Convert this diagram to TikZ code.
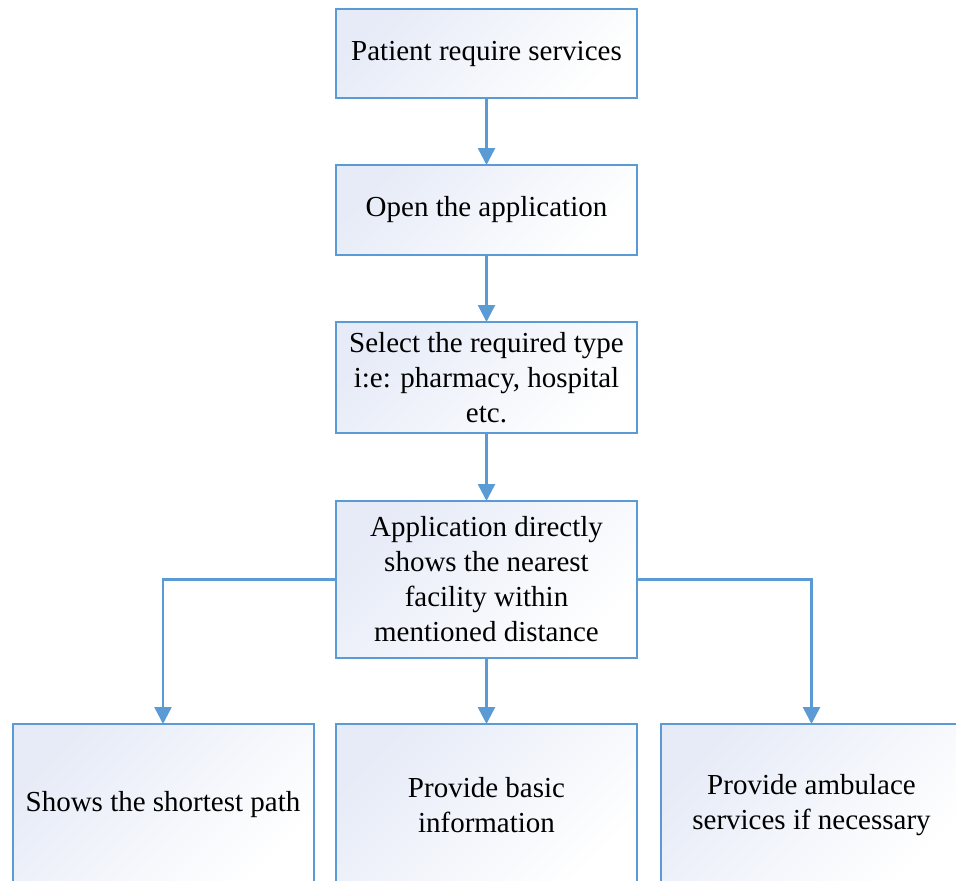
\documentclass[tikz,border=0pt]{standalone}
\usepackage{fontspec}
\setmainfont{Liberation Serif}
\usetikzlibrary{arrows.meta}
\usetikzlibrary{calc,positioning}

\definecolor{boxline}{RGB}{91,155,213}
\definecolor{boxtop}{RGB}{230,235,247}

\begin{document}
\begin{tikzpicture}[x=1pt,y=-1pt]
    \def\boxWidth{301pt}
    \def\midX{486.5}

    \tikzstyle{stepbox}=[draw=boxline,line width=2pt,outer sep=0pt,
    top color=boxtop,bottom color=white,shading angle=45,
    minimum width=\boxWidth,align=center,
    font=\fontsize{29}{35}\selectfont]

    \tikzstyle{flow}=[draw=boxline,line width=2.5pt,
    -{Triangle[width=17pt,length=17pt]},boxline]

    \clip (0,0) rectangle (956,881);
    \useasboundingbox (0,0) rectangle (956,881);

    % Main steps
    \node[stepbox, minimum height=89pt] (P1) at (\midX,53.5) {Patient require services};
    \node[stepbox, minimum height=90pt] (P2) at (\midX,210) {Open the application};
    \node[stepbox, minimum height=111pt] (P3) at (\midX,377.5) {Select the required type\\i:e: pharmacy, hospital\\etc.};
    \node[stepbox, minimum height=157pt] (P4) at (\midX,579.5) {Application directly\\shows the nearest\\facility within\\mentioned distance};

    % Results
    \node[stepbox, minimum height=162pt] (R1) at (163,805) {Shows the shortest path};
    \node[stepbox, minimum height=162pt] (R2) at (\midX,805) {Provide basic\\information};
    \node[stepbox, minimum height=162pt] (R3) at (811.5,805) {Provide ambulace\\services if necessary};

    % Arrows
    \draw[flow] (P1) -- (P2);
    \draw[flow] (P2) -- (P3);
    \draw[flow] (P3) -- (P4);
    \draw[flow] (P4.west) -| (R1.north);
    \draw[flow] (P4) -- (R2);
    \draw[flow] (P4.east) -| (R3.north);
\end{tikzpicture}
\end{document}
